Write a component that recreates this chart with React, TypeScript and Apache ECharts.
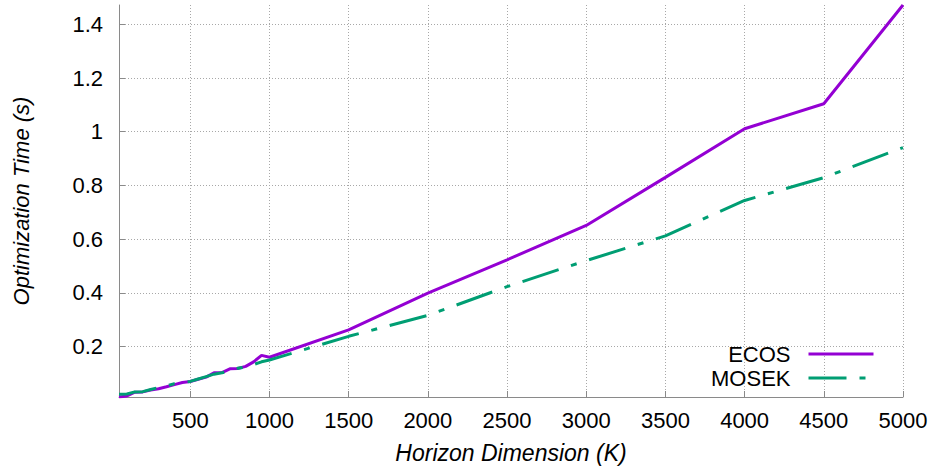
import React, { useEffect, useRef } from "react";
import * as echarts from "echarts";

const horizon = [
  50, 100, 150, 200, 250, 300, 350, 400, 450, 500, 550, 600, 650, 700, 750, 800, 850, 900, 950, 1000,
  1500, 2000, 2500, 3000, 3500, 4000, 4500, 5000,
];
const ecosTime = [
  0.012, 0.016, 0.03, 0.031, 0.038, 0.043, 0.05, 0.058, 0.066, 0.07, 0.078, 0.086, 0.102, 0.103, 0.117,
  0.118, 0.126, 0.143, 0.167, 0.16, 0.262, 0.399, 0.523, 0.651, 0.83, 1.011, 1.104, 1.472,
];
const mosekTime = [
  0.022, 0.023, 0.031, 0.032, 0.04, 0.047, 0.053, 0.062, 0.065, 0.07, 0.079, 0.088, 0.097, 0.102, 0.11,
  0.119, 0.124, 0.133, 0.143, 0.15, 0.238, 0.316, 0.423, 0.52, 0.612, 0.744, 0.829, 0.941,
];
const xTicks = [500, 1000, 1500, 2000, 2500, 3000, 3500, 4000, 4500, 5000];
const yTicks = [0.2, 0.4, 0.6, 0.8, 1, 1.2, 1.4];
const seriesNames = ["ECOS", "MOSEK"];

const FONT = "'Liberation Sans', Arial, Helvetica, sans-serif";
const AXIS_GRAY = "#8a8a8a";
const GRID_GRAY = "#a8a8a8";

export default function App() {
  const ref = useRef<HTMLDivElement>(null);
  useEffect(() => {
    if (!ref.current) return;
    const chart = echarts.init(ref.current, null, { renderer: "svg" });
    const commonAxis = {
      axisLine: { show: true, lineStyle: { color: AXIS_GRAY, width: 1 } },
      splitLine: { show: true, lineStyle: { color: GRID_GRAY, width: 1, type: [1, 2] } },
    };
    chart.setOption({
      animation: false,
      backgroundColor: "#ffffff",
      textStyle: { fontFamily: FONT },
      grid: { left: 119, right: 32, top: 5, bottom: 75, containLabel: false },
      xAxis: {
        type: "value",
        min: 50,
        max: 5000,
        ...commonAxis,
        axisTick: { show: true, inside: true, length: 6, customValues: xTicks, lineStyle: { color: AXIS_GRAY } },
        axisLabel: {
          customValues: xTicks,
          formatter: (v: number) => String(v),
          color: "#000",
          fontSize: 22,
          fontFamily: FONT,
          margin: 12,
        },
        name: "Horizon Dimension (K)",
        nameLocation: "middle",
        nameGap: 44,
        nameTextStyle: { fontSize: 23, fontStyle: "italic", color: "#000", fontFamily: FONT },
      },
      yAxis: {
        type: "value",
        min: 0.012,
        max: 1.472,
        ...commonAxis,
        axisTick: { show: true, inside: true, length: 6, customValues: yTicks, lineStyle: { color: AXIS_GRAY } },
        axisLabel: {
          customValues: yTicks,
          formatter: (v: number) => String(v),
          color: "#000",
          fontSize: 22,
          fontFamily: FONT,
          margin: 16,
        },
        name: "Optimization Time (s)",
        nameLocation: "middle",
        nameGap: 87,
        nameTextStyle: { fontSize: 22, fontStyle: "italic", color: "#000", fontFamily: FONT },
      },
      legend: {
        orient: "vertical",
        align: "right",
        right: 55,
        top: 337,
        itemWidth: 65,
        itemHeight: 14,
        itemGap: 0,
        itemStyle: { opacity: 0 },
        lineStyle: { width: 3 },
        textStyle: { fontSize: 22, color: "#000", fontFamily: FONT, lineHeight: 24, padding: [0, 13, 0, 0] },
        data: seriesNames,
      },
      series: [
        {
          name: seriesNames[0],
          type: "line",
          data: horizon.map((h, i) => [h, ecosTime[i]]),
          symbol: "none",
          showSymbol: false,
          color: "#9400d3",
          lineStyle: { width: 3, color: "#9400d3" },
        },
        {
          name: seriesNames[1],
          type: "line",
          data: horizon.map((h, i) => [h, mosekTime[i]]),
          symbol: "none",
          showSymbol: false,
          color: "#009e73",
          lineStyle: { width: 3, color: "#009e73", type: [38, 13, 6, 13] },
        },
      ],
    });
    return () => chart.dispose();
  }, []);
  return (
    <div
      ref={ref}
      style={{ position: "fixed", left: 0, top: 0, width: 935, height: 472, background: "#fff" }}
    />
  );
}
